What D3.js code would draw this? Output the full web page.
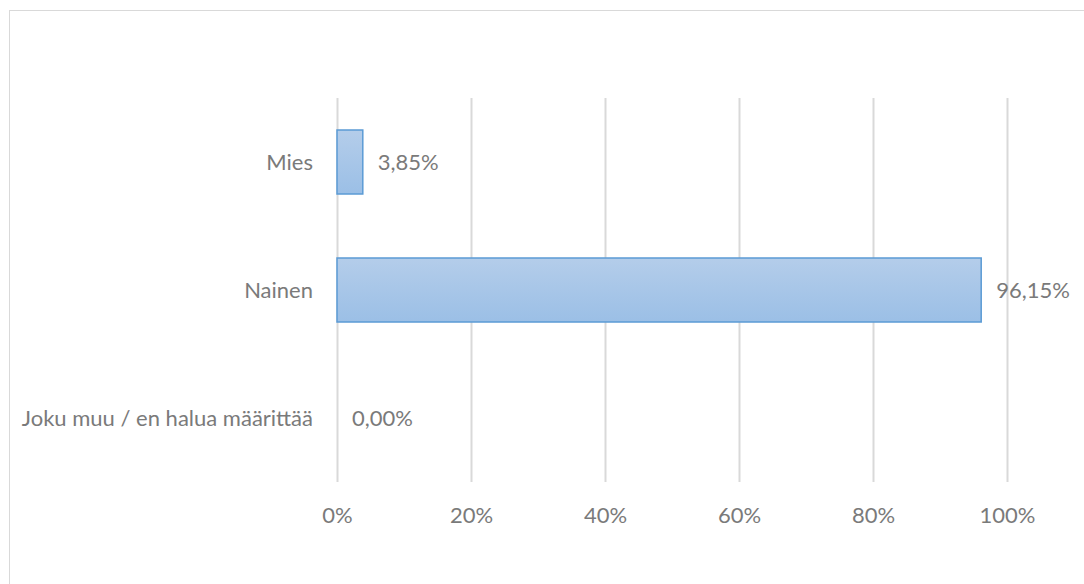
<!DOCTYPE html>
<html><head><meta charset="utf-8">
<script src="https://cdn.jsdelivr.net/npm/d3@7"></script>
<style>body{margin:0;background:#fff}svg{display:block}text{font-family:Lato,sans-serif;fill:#7a7a7a}</style>
</head><body><svg id="c" width="1084" height="584"></svg>
<script>
const categories = ["Mies", "Nainen", "Joku muu / en halua määrittää"];
const values = [3.85, 96.15, 0.00];
const tickValues = [0, 20, 40, 60, 80, 100];

const FS = "22px";
const svg = d3.select("#c");
svg.append("rect").attr("x",9.5).attr("y",10.5).attr("width",1090).attr("height",600)
  .attr("fill","#fff").attr("stroke","#d9d9d9");

const x = d3.scaleLinear().domain([0,100]).range([337,1007]);
const y = d3.scaleBand().domain(categories).range([98,482]).paddingInner(0.5).paddingOuter(0.25);

const defs = svg.append("defs");
const g = defs.append("linearGradient").attr("id","bg").attr("x1",0).attr("y1",0).attr("x2",0).attr("y2",1);
g.append("stop").attr("offset","0%").attr("stop-color","#b4cdea");
g.append("stop").attr("offset","100%").attr("stop-color","#9bbfe6");

svg.append("g").selectAll("line").data(tickValues).join("line")
  .attr("x1",d=>Math.round(x(d))+0.5).attr("x2",d=>Math.round(x(d))+0.5)
  .attr("y1",98).attr("y2",482).attr("stroke","#d9d9d9").attr("stroke-width",2);

const xAxis = svg.append("g").attr("transform","translate(0,482)")
  .call(d3.axisBottom(x).tickValues(tickValues).tickFormat(d=>d+"%").tickSize(0).tickPadding(25));
xAxis.select(".domain").remove();
xAxis.selectAll("text").style("font-size",FS).style("fill","#7a7a7a").style("font-family","Lato,sans-serif");

svg.append("g").selectAll("rect").data(values).join("rect")
  .attr("x",x(0)).attr("y",(d,i)=>y(categories[i]))
  .attr("width",d=>Math.max(0,x(d)-x(0))).attr("height",y.bandwidth())
  .attr("fill","url(#bg)").attr("stroke",d=>d>0?"#5b9bd5":"none").attr("stroke-width",1.5)
  .attr("visibility",d=>d>0?"visible":"hidden");

svg.append("g").selectAll("text").data(values).join("text")
  .attr("x",d=>x(d)+15).attr("y",(d,i)=>y(categories[i])+y.bandwidth()/2)
  .attr("dy","0.35em").style("font-size",FS)
  .text(d=>d.toFixed(2).replace(".",",")+"%");

svg.append("g").selectAll("text").data(categories).join("text")
  .attr("x",313).attr("y",d=>y(d)+y.bandwidth()/2).attr("dy","0.35em")
  .attr("text-anchor","end").style("font-size",FS).text(d=>d);
</script></body></html>
